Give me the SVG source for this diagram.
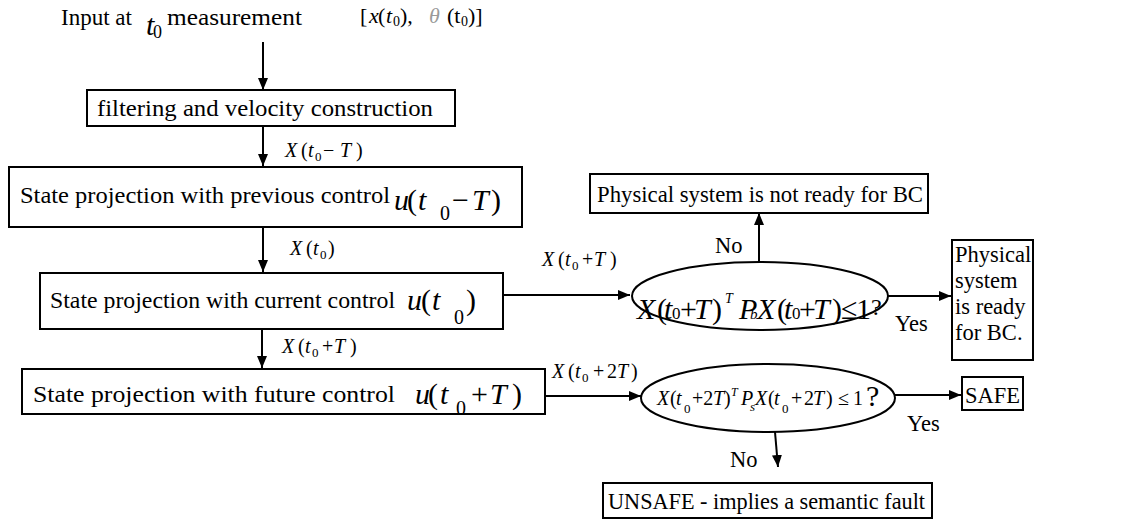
<svg xmlns="http://www.w3.org/2000/svg" width="1129" height="523" viewBox="0 0 1129 523">
<style>
text{font-family:"Liberation Serif","Times New Roman",serif;fill:#000}
.t{font-size:24px}
.s{font-size:22.5px}
.i{font-style:italic}
.n{font-style:normal}
.lab{font-size:20px;font-style:italic}
.box{fill:#fff;stroke:#000;stroke-width:2}
.ell{fill:#fff;stroke:#000;stroke-width:2}
.c{stroke:#000;stroke-width:2;fill:none}
</style>
<defs>
<marker id="ah" viewBox="0 0 12 10" refX="12" refY="5" markerWidth="12" markerHeight="10" markerUnits="userSpaceOnUse" orient="auto">
<path d="M0,0 L12,5 L0,10 z" fill="#000"/>
</marker>
</defs>
<rect width="1129" height="523" fill="#fff"/>

<g id="input">
<text class="t" x="61" y="25" textLength="71" lengthAdjust="spacingAndGlyphs">Input at</text>
<text class="i" x="146" y="35" font-size="30">t</text>
<text x="153" y="38" font-size="18">0</text>
<text class="t" x="167" y="25" textLength="135" lengthAdjust="spacingAndGlyphs">measurement</text>
<text font-size="22" y="23"><tspan x="360">[</tspan><tspan x="369" class="i">x</tspan><tspan x="378">(</tspan><tspan x="386" class="i">t</tspan><tspan x="393" font-size="14" y="26">0</tspan><tspan x="400" y="23">),</tspan><tspan x="429" fill="#9a9a9a" class="i">θ</tspan><tspan x="447">(t</tspan><tspan x="461" font-size="14" y="26">0</tspan><tspan x="468" y="23">)]</tspan></text>
</g>

<g id="connectors">
<line class="c" x1="263" y1="42" x2="263" y2="90" marker-end="url(#ah)"/>
<line class="c" x1="263" y1="126" x2="263" y2="166" marker-end="url(#ah)"/>
<line class="c" x1="263" y1="227" x2="263" y2="272" marker-end="url(#ah)"/>
<line class="c" x1="262" y1="329" x2="262" y2="368" marker-end="url(#ah)"/>
<line class="c" x1="503" y1="295" x2="630" y2="295" marker-end="url(#ah)"/>
<line class="c" x1="759" y1="262" x2="759" y2="213" marker-end="url(#ah)"/>
<line class="c" x1="888" y1="296" x2="951" y2="296" marker-end="url(#ah)"/>
<line class="c" x1="545" y1="396" x2="641" y2="396" marker-end="url(#ah)"/>
<line class="c" x1="895" y1="395" x2="961" y2="395" marker-end="url(#ah)"/>
<line class="c" x1="775" y1="432" x2="778" y2="467" marker-end="url(#ah)"/>
<text class="lab" y="157"><tspan x="285">X</tspan><tspan x="301" class="n">(</tspan><tspan x="308">t</tspan><tspan x="315" y="161" font-size="13" class="n">0</tspan><tspan x="323" y="157" class="n">−</tspan><tspan x="340">T</tspan><tspan x="356" class="n">)</tspan></text>
<text class="lab" y="255"><tspan x="290">X</tspan><tspan x="306" class="n">(</tspan><tspan x="313">t</tspan><tspan x="320" y="259" font-size="13" class="n">0</tspan><tspan x="328" y="255" class="n">)</tspan></text>
<text class="lab" y="353"><tspan x="282">X</tspan><tspan x="298" class="n">(</tspan><tspan x="305">t</tspan><tspan x="312" y="357" font-size="13" class="n">0</tspan><tspan x="322" y="353" class="n">+</tspan><tspan x="334">T</tspan><tspan x="350" class="n">)</tspan></text>
<text class="lab" y="266"><tspan x="542">X</tspan><tspan x="558" class="n">(</tspan><tspan x="565">t</tspan><tspan x="572" y="270" font-size="13" class="n">0</tspan><tspan x="582" y="266" class="n">+</tspan><tspan x="594">T</tspan><tspan x="610" class="n">)</tspan></text>
<text class="lab" y="378"><tspan x="552">X</tspan><tspan x="568" class="n">(</tspan><tspan x="575">t</tspan><tspan x="582" y="382" font-size="13" class="n">0</tspan><tspan x="593" y="378" class="n">+</tspan><tspan x="607" class="n">2</tspan><tspan x="617">T</tspan><tspan x="631" class="n">)</tspan></text>
<text class="s" x="715" y="253">No</text>
<text class="s" x="895" y="331">Yes</text>
<text class="s" x="907" y="431">Yes</text>
<text class="s" x="730" y="467">No</text>
</g>

<g id="filter">
<rect class="box" x="87" y="90" width="368" height="36"/>
<text class="t" x="97" y="116" textLength="336" lengthAdjust="spacingAndGlyphs">filtering and velocity construction</text>
</g>

<g id="proj-prev">
<rect class="box" x="9" y="167" width="513" height="60"/>
<text class="t" x="20" y="203" textLength="370" lengthAdjust="spacingAndGlyphs">State projection with previous control</text>
<text class="i" font-size="30" y="210"><tspan x="394">u</tspan><tspan x="407" class="n">(</tspan><tspan x="418">t</tspan><tspan x="440" y="220" font-size="20" class="n">0</tspan><tspan x="452" y="210" class="n">−</tspan><tspan x="472">T</tspan><tspan x="491" class="n">)</tspan></text>
</g>

<g id="proj-cur">
<rect class="box" x="40" y="273" width="463" height="56"/>
<text class="t" x="50" y="308" textLength="345" lengthAdjust="spacingAndGlyphs">State projection with current control</text>
<text class="i" font-size="30" y="310"><tspan x="407">u</tspan><tspan x="421" class="n">(</tspan><tspan x="432">t</tspan><tspan x="454" y="324" font-size="20" class="n">0</tspan><tspan x="466" y="310" class="n">)</tspan></text>
</g>

<g id="proj-fut">
<rect class="box" x="22" y="369" width="523" height="45"/>
<text class="t" x="33" y="402" textLength="362" lengthAdjust="spacingAndGlyphs">State projection with future control</text>
<text class="i" font-size="30" y="404"><tspan x="415">u</tspan><tspan x="428" class="n">(</tspan><tspan x="440">t</tspan><tspan x="456" y="415" font-size="20" class="n">0</tspan><tspan x="471" y="404" class="n">+</tspan><tspan x="490">T</tspan><tspan x="512" class="n">)</tspan></text>
</g>

<g id="check-bc">
<ellipse class="ell" cx="760" cy="296" rx="128" ry="34"/>
<text class="i" font-size="30" y="319"><tspan x="637">X</tspan><tspan x="657" class="n">(</tspan><tspan x="664">t</tspan><tspan x="672" font-size="17" class="n">0</tspan><tspan x="680" class="n">+</tspan><tspan x="694">T</tspan><tspan x="712" class="n">)</tspan><tspan x="725" y="303" font-size="14">T</tspan><tspan x="739" y="319">P</tspan><tspan x="750" font-size="15">b</tspan><tspan x="757">X</tspan><tspan x="777" class="n">(</tspan><tspan x="784">t</tspan><tspan x="792" font-size="17" class="n">0</tspan><tspan x="799" class="n">+</tspan><tspan x="813">T</tspan><tspan x="832" class="n">)</tspan><tspan x="841" class="n">≤</tspan><tspan x="856" class="n">1</tspan><tspan x="871" y="315" font-size="24" class="n">?</tspan></text>
</g>

<g id="not-ready">
<rect class="box" x="590" y="174" width="338" height="39"/>
<text class="s" x="597" y="202" textLength="326" lengthAdjust="spacingAndGlyphs">Physical system is not ready for BC</text>
</g>

<g id="ready">
<rect class="box" x="952" y="240" width="81" height="120"/>
<text class="s" x="955" y="262">Physical</text>
<text class="s" x="955" y="288">system</text>
<text class="s" x="955" y="314">is ready</text>
<text class="s" x="955" y="340">for BC.</text>
</g>

<g id="check-safe">
<ellipse class="ell" cx="768" cy="398" rx="127" ry="34"/>
<text class="i" font-size="20" y="405"><tspan x="657">X</tspan><tspan x="670" class="n">(</tspan><tspan x="676">t</tspan><tspan x="684" y="413" font-size="13" class="n">0</tspan><tspan x="692" y="405" class="n">+2</tspan><tspan x="713">T</tspan><tspan x="724" class="n">)</tspan><tspan x="731" y="396" font-size="12">T</tspan><tspan x="741" y="405">P</tspan><tspan x="750" y="411" font-size="13">s</tspan><tspan x="755" y="405">X</tspan><tspan x="768" class="n">(</tspan><tspan x="774">t</tspan><tspan x="782" y="413" font-size="13" class="n">0</tspan><tspan x="791" y="405" class="n">+</tspan><tspan x="804" class="n">2</tspan><tspan x="813">T</tspan><tspan x="826" class="n">)</tspan><tspan x="838" class="n">≤</tspan><tspan x="853" class="n">1</tspan><tspan x="866" y="406" font-size="30" class="n">?</tspan></text>
</g>

<g id="safe">
<rect class="box" x="962" y="377" width="61" height="33"/>
<text class="s" x="965" y="403" textLength="55" lengthAdjust="spacingAndGlyphs">SAFE</text>
</g>

<g id="unsafe">
<rect class="box" x="603" y="483" width="329" height="35"/>
<text class="s" x="608" y="509" textLength="317" lengthAdjust="spacingAndGlyphs">UNSAFE - implies a semantic fault</text>
</g>
</svg>
